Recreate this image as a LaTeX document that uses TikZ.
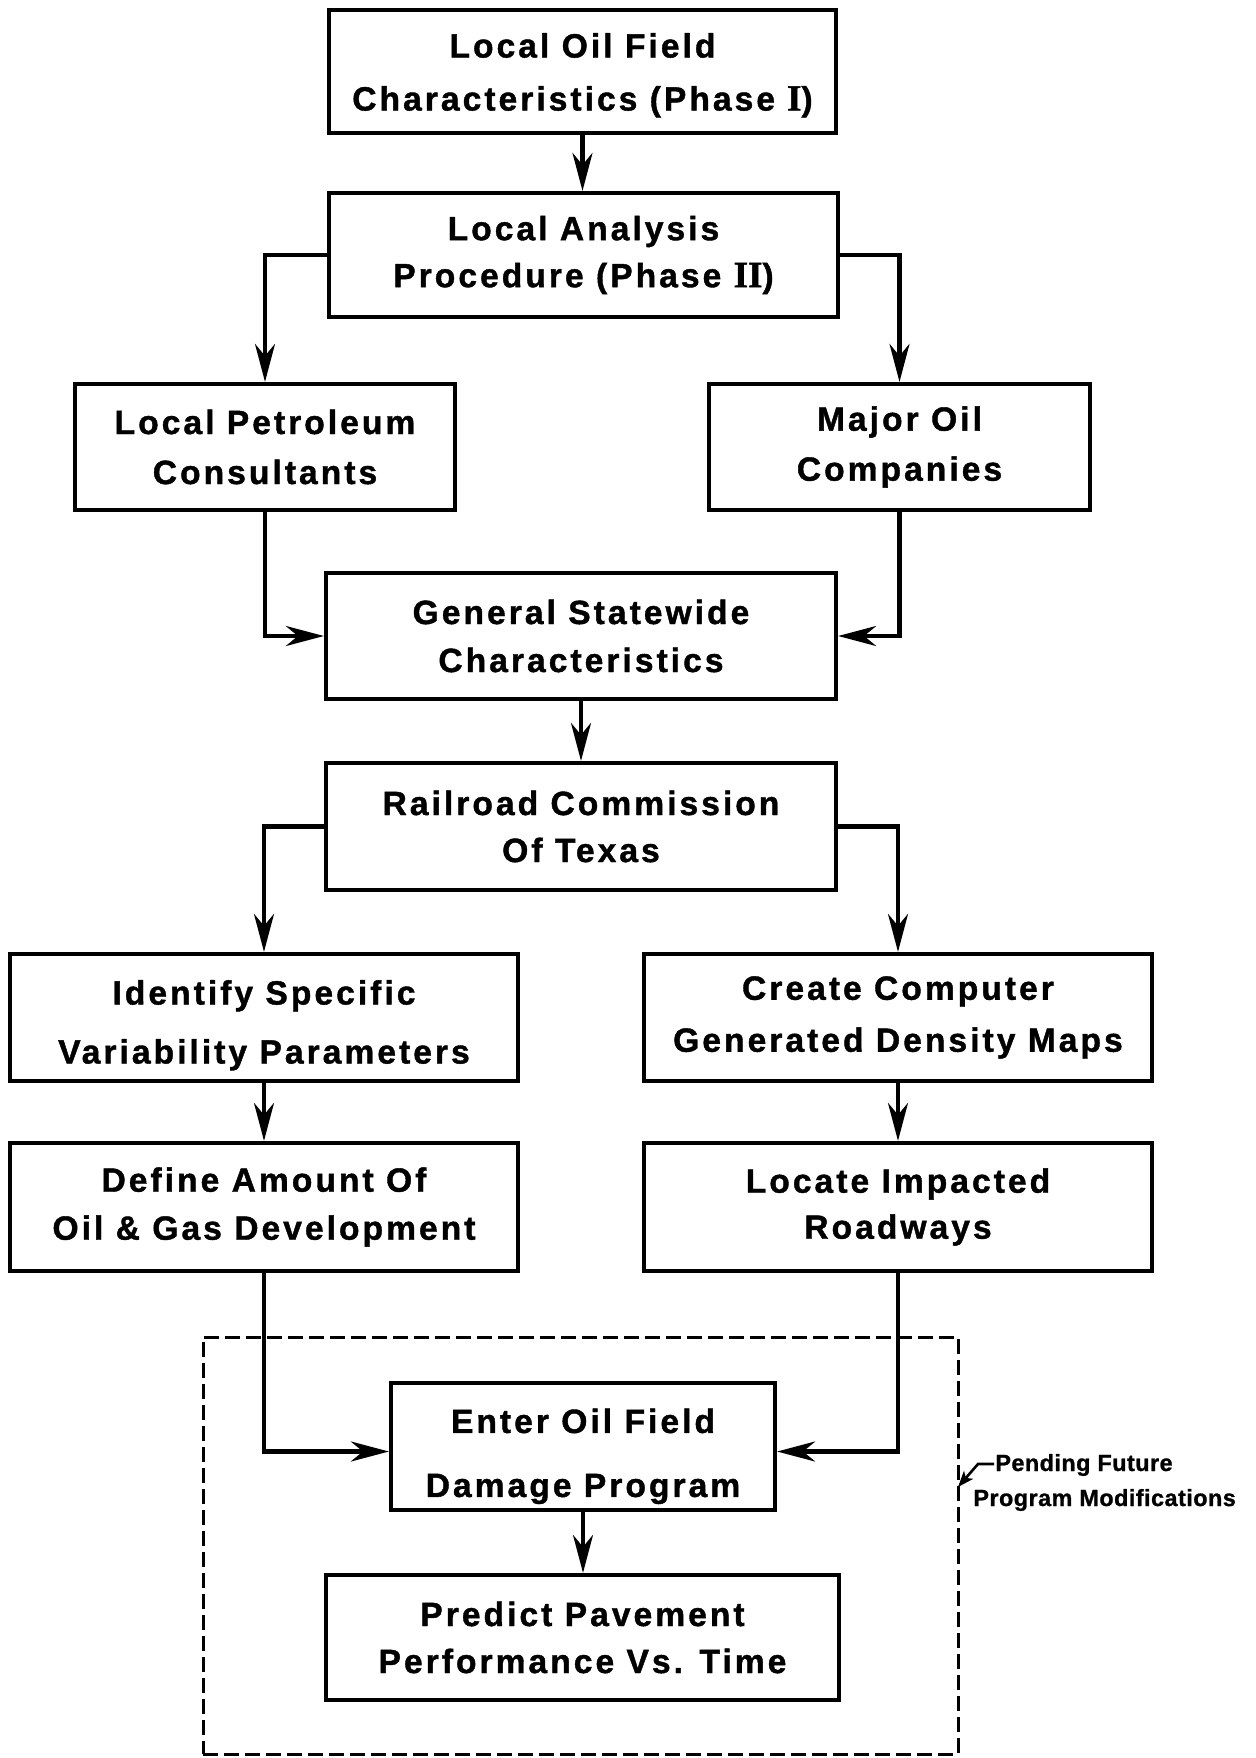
\documentclass[tikz,border=0pt]{standalone}
\usepackage{fontspec}
\setmainfont{Liberation Sans}
\newfontfamily\boxfont[LetterSpace=9, BoldFeatures={FakeBold=1.2}]{Liberation Sans}
\newfontfamily\labfont[LetterSpace=2, BoldFeatures={FakeBold=1.0}]{Liberation Sans}
\newfontfamily\romf[BoldFeatures={FakeBold=1.2}]{Liberation Serif}
\usetikzlibrary{arrows.meta,calc}
\newcommand\romnum[1]{{\romf\bfseries\fontsize{18.5}{24}\selectfont #1}}
\newcommand\dropline[1]{\rule{0pt}{#1}}
\tikzset{
  fbox/.style={draw, line width=2.1pt, align=center, inner sep=0pt,
    font=\boxfont\bfseries\fontsize{16.8}{24}\selectfont},
  conn/.style={line width=2.1pt, -{Stealth[length=19pt,width=10pt,inset=6pt]}},
  dbox/.style={draw, dash pattern=on 7.5pt off 3pt, line width=1.5pt, inner sep=0pt},
  labtext/.style={anchor=west, align=left, inner sep=0pt,
    font=\labfont\bfseries\fontsize{11.7}{17.5}\selectfont},
  labarrow/.style={line width=1.3pt, -{Stealth[length=8pt,width=6pt,inset=2pt]}},
}
\begin{document}
\begin{tikzpicture}[x=0.5pt,y=-0.5pt]
\useasboundingbox (0,0) rectangle (1255,1758);
% dashed region
\node[dbox, minimum width=377.5pt, minimum height=208.5pt] (region) at (580.5,1545.5) {};
% boxes
\node[fbox, minimum width=253.5pt, minimum height=61.5pt] (b1) at (582.5,71.5)
  {\dropline{16pt}Local Oil Field\\[2.5pt]Characteristics (Phase\hspace{6pt}\romnum{I})};
\node[fbox, minimum width=254.5pt, minimum height=62pt] (b2) at (583.5,255)
  {Local Analysis\\[-0.5pt]Procedure (Phase \romnum{II})};
\node[fbox, minimum width=190pt, minimum height=63pt] (b3) at (265,447)
  {Local Petroleum\\[1pt]Consultants};
\node[fbox, minimum width=190.5pt, minimum height=63pt] (b4) at (899.5,447)
  {Major Oil\\[1pt]Companies};
\node[fbox, minimum width=255pt, minimum height=63pt] (b5) at (581,636)
  {General Statewide\\Characteristics};
\node[fbox, minimum width=255pt, minimum height=63.5pt] (b6) at (581,826.5)
  {Railroad Commission\\[-0.5pt]Of Texas};
\node[fbox, minimum width=254pt, minimum height=63.5pt] (b7) at (264,1017.5)
  {\dropline{20pt}Identify Specific\\[5.5pt]Variability Parameters};
\node[fbox, minimum width=254pt, minimum height=63.5pt] (b8) at (898,1017.5)
  {Create Computer\\[2pt]Generated Density Maps};
\node[fbox, minimum width=254pt, minimum height=64pt] (b9) at (264,1207)
  {Define Amount Of\\Oil \& Gas Development};
\node[fbox, minimum width=254pt, minimum height=64pt] (b10) at (898,1207)
  {Locate Impacted\\[-1pt]Roadways};
\node[fbox, minimum width=192pt, minimum height=63.5pt] (b11) at (583,1446.5)
  {\dropline{22pt}Enter Oil Field\\[8pt]Damage Program};
\node[fbox, minimum width=256.5pt, minimum height=62.5pt] (b12) at (582.5,1637.5)
  {Predict Pavement\\[-0.5pt]Performance Vs. Time};
% connectors
\draw[conn] (b1.south) -- (b1.south |- b2.north);
\draw[conn] (b2.west) -| (b3.north);
\draw[conn] (b2.east) -| (b4.north);
\draw[conn] (b3.south) |- (b5.west);
\draw[conn] (b4.south) |- (b5.east);
\draw[conn] (b5.south) -- (b5.south |- b6.north);
\draw[conn] (b6.west) -| (b7.north);
\draw[conn] (b6.east) -| (b8.north);
\draw[conn] (b7.south) -- (b9.north);
\draw[conn] (b8.south) -- (b10.north);
\draw[conn] (b9.south) |- ($(b11.west)+(0,5)$);
\draw[conn] (b10.south) |- ($(b11.east)+(0,5)$);
\draw[conn] (b11.south) -- (b11.south |- b12.north);
% annotation
\node[labtext] (lab) at (973,1482.5)
  {\hspace{11pt}Pending Future\\Program Modifications};
\coordinate (ls) at (994,1464);
\coordinate (lk) at (978,1464);
\coordinate (lt) at (958,1487);
\draw[labarrow] (ls) -- (lk) -- (lt);
\end{tikzpicture}
\end{document}
